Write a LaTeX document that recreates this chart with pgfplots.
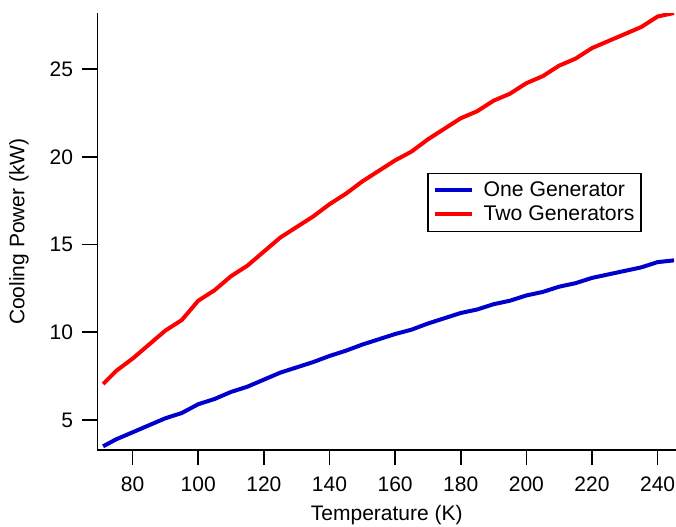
\documentclass[border=0pt]{standalone}
\usepackage{pgfplots}
\pgfplotsset{compat=1.18}
\usepackage{fontspec}
\setmainfont{Liberation Sans}
\definecolor{oneblue}{RGB}{0,0,204}
\definecolor{twored}{RGB}{255,0,0}
\begin{document}
\fontsize{10.5}{12}\selectfont
\begin{tikzpicture}
\useasboundingbox (-48.75pt,-38pt) rectangle (289.25pt,225pt);
\begin{axis}[
  at={(0pt,0pt)}, anchor=south west,
  scale only axis,
  width=289.25pt, height=218.5pt,
  xmin=69.3, xmax=245.6, ymin=3.29, ymax=28.2,
  axis x line=bottom, axis y line=left,
  axis line style={-, line width=0.8pt, black},
  every tick/.style={black, line width=0.8pt},
  tick align=outside, major tick length=7.5pt,
  xtick={80,100,...,240}, ytick={5,10,...,25},
  minor tick num=0,
  /pgf/number format/assume math mode=true,
  ticklabel style={font=\fontsize{10.5}{12}\selectfont},
  xticklabel style={yshift=-2pt},
  yticklabel style={xshift=-1pt},
  xlabel={Temperature (K)}, ylabel={Cooling Power (kW)},
  label style={font=\fontsize{10.5}{12}\selectfont},
  xlabel style={at={(axis description cs:0.5,-0.1487)}, anchor=center},
  ylabel style={at={(axis description cs:-0.1358,0.5)}, anchor=center},
  legend style={at={(0.570,0.635)}, anchor=north west, draw=black, line width=0.8pt,
    font=\fontsize{10.6}{12}\selectfont, inner xsep=2.5pt, inner ysep=3.2pt,
    nodes={inner sep=0.8pt}, row sep=1.5pt,
    /tikz/every odd column/.append style={column sep=4pt}},
  legend cell align=left,
  legend image code/.code={\draw[#1, line width=2pt] (0pt,0pt) -- (18.5pt,0pt);},
  clip=true,
]
\addplot[oneblue, line width=2pt] coordinates {
(71,3.5) (75,3.9) (80,4.3) (85,4.7) (90,5.1) (95,5.4) (100,5.9) (105,6.2) (110,6.6)
(115,6.9) (120,7.3) (125,7.7) (130,8.0) (135,8.3) (140,8.65) (145,8.95) (150,9.3)
(155,9.6) (160,9.9) (165,10.15) (170,10.5) (175,10.8) (180,11.1) (185,11.3) (190,11.6)
(195,11.8) (200,12.1) (205,12.3) (210,12.6) (215,12.8) (220,13.1) (225,13.3) (230,13.5)
(235,13.7) (240,14.0) (245,14.1)
};
\addlegendentry{One Generator}
\addplot[twored, line width=2pt] coordinates {
(71,7.05) (75,7.8) (80,8.5) (85,9.3) (90,10.1) (95,10.7) (100,11.8) (105,12.4) (110,13.2)
(115,13.8) (120,14.6) (125,15.4) (130,16.0) (135,16.6) (140,17.3) (145,17.9) (150,18.6)
(155,19.2) (160,19.8) (165,20.3) (170,21.0) (175,21.6) (180,22.2) (185,22.6) (190,23.2)
(195,23.6) (200,24.2) (205,24.6) (210,25.2) (215,25.6) (220,26.2) (225,26.6) (230,27.0)
(235,27.4) (240,28.0) (245,28.2)
};
\addlegendentry{Two Generators}
\end{axis}
\end{tikzpicture}
\end{document}
